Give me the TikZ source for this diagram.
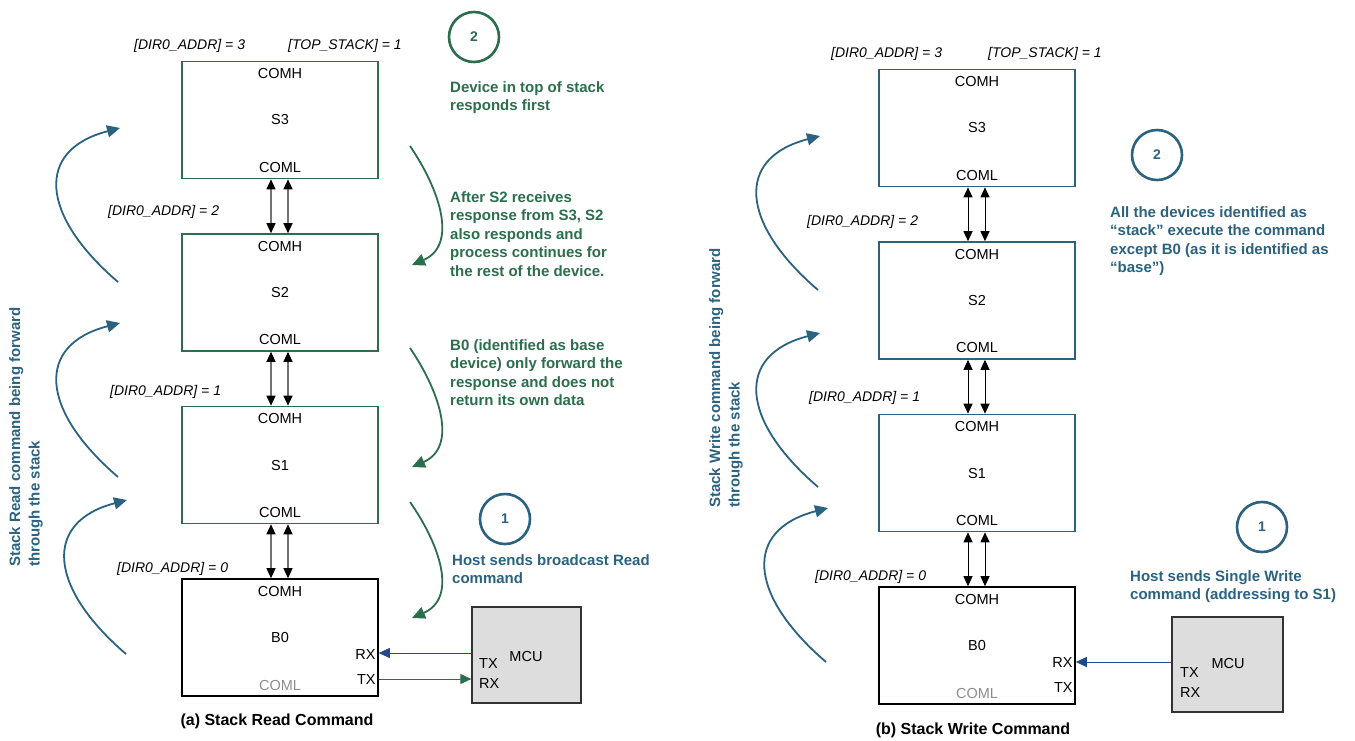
\documentclass[tikz,border=0pt]{standalone}
\usepackage{fontspec}
\setmainfont{Liberation Sans}
\usetikzlibrary{arrows.meta,calc}
\definecolor{tgreen}{HTML}{2B6E4C}
\definecolor{tblue}{HTML}{2A6280}
\definecolor{tnavy}{HTML}{1E4B8C}
\definecolor{mcufill}{HTML}{DDDDDD}
\begin{document}
\begin{tikzpicture}[x=1pt,y=-1pt,
  dev/.style={draw, line width=1.6pt, minimum width=196pt, minimum height=117pt, inner sep=0},
  lbl/.style={font=\fontsize{14.5}{17}\selectfont, inner sep=0},
  addr/.style={font=\fontsize{14}{17}\selectfont\itshape, inner sep=0, anchor=west},
  note/.style={font=\fontsize{15}{18.5}\selectfont\bfseries, inner sep=0, anchor=north west, align=left},
  vnote/.style={font=\fontsize{15}{19.5}\selectfont\bfseries, inner sep=0, anchor=north west, align=left, rotate=90, text=tblue},
  circ/.style={circle, draw, line width=2.6pt, minimum size=50pt, inner sep=0, font=\fontsize{14}{16}\selectfont\bfseries},
  mcu/.style={draw=black!80, fill=mcufill, line width=1.3pt, inner sep=0},
  darr/.style={draw=black!55, line width=1.2pt, {Triangle[length=10pt,width=9pt,color=black]}-{Triangle[length=10pt,width=9pt,color=black]}},
  darrb/.style={draw=black, line width=1pt, {Triangle[length=10pt,width=9pt]}-{Triangle[length=10pt,width=9pt]}},
  bcurve/.style={draw=tblue, line width=1.8pt, -{Triangle[length=13pt,width=12pt]}},
  gcurve/.style={draw=tgreen, line width=1.8pt, -{Triangle[length=13pt,width=12pt]}},
  caption/.style={font=\fontsize{16}{19}\selectfont\bfseries, inner sep=0}
]
\useasboundingbox (0,0) rectangle (1355,740);

%% ================= Panel (a) =================
\node[dev, draw=tgreen] (a3) at (280,120) {};
\node[dev, draw=tgreen] (a2) at (280,292.5) {};
\node[dev, draw=tgreen] (a1) at (280,465) {};
\node[dev, draw=black]  (a0) at (280,637.5) {};

\node[lbl] (a3h) at ($(a3.north)+(0,13)$) {COMH};
\node[lbl] (a3n) at (a3.center) {S3};
\node[lbl] (a3l) at ($(a3.south)+(0,-12)$) {COML};
\node[lbl] (a2h) at ($(a2.north)+(0,13)$) {COMH};
\node[lbl] (a2n) at (a2.center) {S2};
\node[lbl] (a2l) at ($(a2.south)+(0,-12)$) {COML};
\node[lbl] (a1h) at ($(a1.north)+(0,13)$) {COMH};
\node[lbl] (a1n) at (a1.center) {S1};
\node[lbl] (a1l) at ($(a1.south)+(0,-12)$) {COML};
\node[lbl] (a0h) at ($(a0.north)+(0,13)$) {COMH};
\node[lbl] (a0n) at (a0.center) {B0};
\node[lbl, text=black!45] (a0l) at ($(a0.south)+(0,-11)$) {COML};
\node[lbl, anchor=east] (a0rx) at ($(a0.east)+(-3,17)$) {RX};
\node[lbl, anchor=east] (a0tx) at ($(a0.east)+(-3,42)$) {TX};

\draw[darr] ($(a3.south)+(-9,0)$) -- ($(a2.north)+(-9,0)$);
\draw[darr] ($(a3.south)+(8,0)$) -- ($(a2.north)+(8,0)$);
\draw[darr] ($(a2.south)+(-9,0)$) -- ($(a1.north)+(-9,0)$);
\draw[darr] ($(a2.south)+(8,0)$) -- ($(a1.north)+(8,0)$);
\draw[darr] ($(a1.south)+(-9,0)$) -- ($(a0.north)+(-9,0)$);
\draw[darr] ($(a1.south)+(8,0)$) -- ($(a0.north)+(8,0)$);

\node[addr] (aad3) at (134,46) {[DIR0\_ADDR] = 3};
\node[addr] (atop) at (288,46) {[TOP\_STACK] = 1};
\node[addr] (aad2) at (108,212) {[DIR0\_ADDR] = 2};
\node[addr] (aad1) at (110,392) {[DIR0\_ADDR] = 1};
\node[addr] (aad0) at (117,569) {[DIR0\_ADDR] = 0};

\node[mcu, minimum width=109pt, minimum height=96pt] (amcu) at (526.5,655) {};
\node[lbl] (amcut) at (526,656) {MCU};
\node[lbl, anchor=west] (amtx) at (479,663) {TX};
\node[lbl, anchor=west] (amrx) at (479,683) {RX};
\draw[draw=tnavy, line width=1pt, -{Triangle[length=11pt,width=10pt]}] (amcu.west |- 0,653) -- (a0.east |- 0,653);
\draw[draw=tgreen, line width=1pt, -{Triangle[length=11pt,width=10pt]}] (a0.east |- 0,679) -- (amcu.west |- 0,679);

\node[circ, draw=tgreen, text=tgreen] (ac2) at (474,37) {2};
\node[circ, draw=tblue, text=tblue] (ac1) at (505,519) {1};

\node[note, text=tgreen] (an1) at (450,81) {Device in top of stack\\responds first};
\node[note, text=tgreen] (an2) at (450,191) {After S2 receives\\response from S3, S2\\also responds and\\process continues for\\the rest of the device.};
\node[note, text=tgreen] (an3) at (450,339) {B0 (identified as base\\device) only forward the\\response and does not\\return its own data};
\node[note, text=tblue] (an4) at (452,554) {Host sends broadcast Read\\command};

\node[vnote] (av) at (9,567) {Stack Read command being forward\\through the stack};

\foreach \dy in {0,195} {
  \draw[bcurve] (118,282+\dy) .. controls (40,215+\dy) and (35,150+\dy) .. (120,128+\dy);
}
\draw[bcurve] (126,654) .. controls (48,587) and (43,522) .. (127,500);

\draw[gcurve] (410,146) .. controls (440,190) and (458,245) .. (412,265);
\draw[gcurve] (410,348) .. controls (440,392) and (458,447) .. (412,467);
\draw[gcurve] (410,502) .. controls (440,545) and (458,598) .. (412,618);

\node[caption] (acap) at (277,721) {(a) Stack Read Command};

%% ================= Panel (b) =================
\node[dev, draw=tblue] (b3) at (977,128) {};
\node[dev, draw=tblue] (b2) at (977,300.5) {};
\node[dev, draw=tblue] (b1) at (977,473) {};
\node[dev, draw=black] (b0) at (977,645.5) {};

\node[lbl] (b3h) at ($(b3.north)+(0,13)$) {COMH};
\node[lbl] (b3n) at (b3.center) {S3};
\node[lbl] (b3l) at ($(b3.south)+(0,-12)$) {COML};
\node[lbl] (b2h) at ($(b2.north)+(0,13)$) {COMH};
\node[lbl] (b2n) at (b2.center) {S2};
\node[lbl] (b2l) at ($(b2.south)+(0,-12)$) {COML};
\node[lbl] (b1h) at ($(b1.north)+(0,13)$) {COMH};
\node[lbl] (b1n) at (b1.center) {S1};
\node[lbl] (b1l) at ($(b1.south)+(0,-12)$) {COML};
\node[lbl] (b0h) at ($(b0.north)+(0,13)$) {COMH};
\node[lbl] (b0n) at (b0.center) {B0};
\node[lbl, text=black!45] (b0l) at ($(b0.south)+(0,-11)$) {COML};
\node[lbl, anchor=east] (b0rx) at ($(b0.east)+(-3,17)$) {RX};
\node[lbl, anchor=east] (b0tx) at ($(b0.east)+(-3,42)$) {TX};

\draw[darrb] ($(b3.south)+(-9,0)$) -- ($(b2.north)+(-9,0)$);
\draw[darrb] ($(b3.south)+(8,0)$) -- ($(b2.north)+(8,0)$);
\draw[darrb] ($(b2.south)+(-9,0)$) -- ($(b1.north)+(-9,0)$);
\draw[darrb] ($(b2.south)+(8,0)$) -- ($(b1.north)+(8,0)$);
\draw[darrb] ($(b1.south)+(-9,0)$) -- ($(b0.north)+(-9,0)$);
\draw[darrb] ($(b1.south)+(8,0)$) -- ($(b0.north)+(8,0)$);

\node[addr] (bad3) at (831,54) {[DIR0\_ADDR] = 3};
\node[addr] (btop) at (988,54) {[TOP\_STACK] = 1};
\node[addr] (bad2) at (807,222) {[DIR0\_ADDR] = 2};
\node[addr] (bad1) at (809,398) {[DIR0\_ADDR] = 1};
\node[addr] (bad0) at (815,577) {[DIR0\_ADDR] = 0};

\node[mcu, minimum width=111pt, minimum height=95pt] (bmcu) at (1227.5,664.5) {};
\node[lbl] (bmcut) at (1228,663) {MCU};
\node[lbl, anchor=west] (bmtx) at (1180,672) {TX};
\node[lbl, anchor=west] (bmrx) at (1180,692) {RX};
\draw[draw=tnavy, line width=1pt, -{Triangle[length=11pt,width=10pt]}] (bmcu.west |- 0,662) -- (b0.east |- 0,662);

\node[circ, draw=tblue, text=tblue] (bc2) at (1157,155) {2};
\node[circ, draw=tblue, text=tblue] (bc1) at (1262,527) {1};

\node[note, text=tblue] (bn1) at (1110,206) {All the devices identified as\\“stack” execute the command\\except B0 (as it is identified as\\“base”)};
\node[note, text=tblue] (bn2) at (1130,570) {Host sends Single Write\\command (addressing to S1)};

\node[vnote] (bv) at (709,508) {Stack Write command being forward\\through the stack};

\draw[bcurve] (818,290) .. controls (740,223) and (735,158) .. (820,136);
\draw[bcurve] (818,487) .. controls (740,420) and (735,355) .. (820,333);
\draw[bcurve] (826,662) .. controls (748,595) and (743,530) .. (828,508);

\node[caption] (bcap) at (973,730) {(b) Stack Write Command};
\end{tikzpicture}
\end{document}
